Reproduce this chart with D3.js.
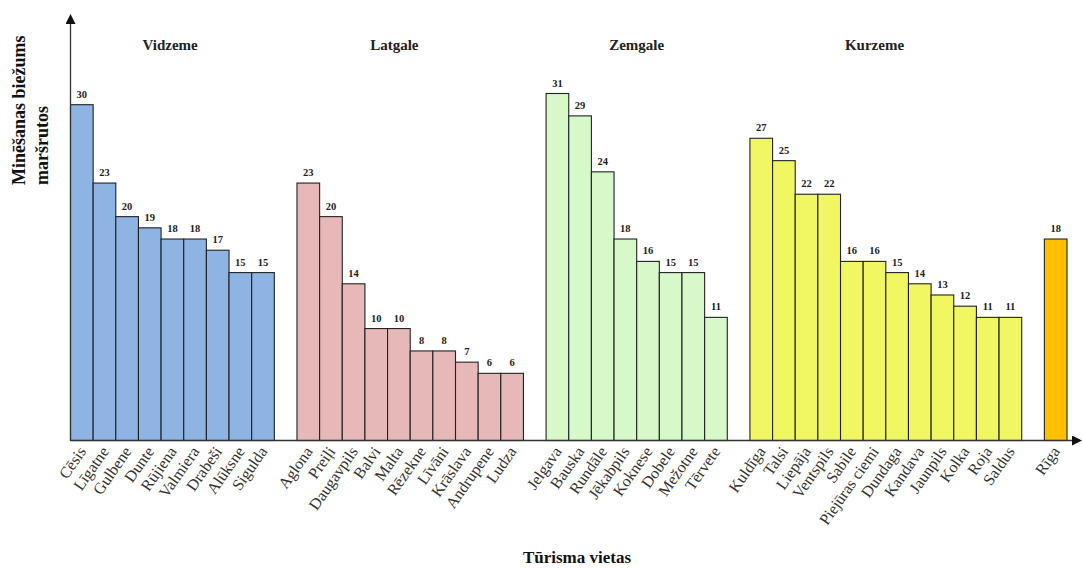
<!DOCTYPE html>
<html>
<head>
<meta charset="utf-8">
<script src="https://cdn.jsdelivr.net/npm/d3@7/dist/d3.min.js"></script>
<style>
  html, body { margin: 0; padding: 0; background: #fff; }
  svg { display: block; }
</style>
</head>
<body>
<svg id="chart" width="1083" height="569"></svg>
<script>
// Regions and their tourism places, with how often each was mentioned in routes
const regions = ["Vidzeme", "Latgale", "Zemgale", "Kurzeme", "Rīga"];
const regionLabels = ["Vidzeme", "Latgale", "Zemgale", "Kurzeme", ""];

const vidzemePlaces = ["Cēsis", "Līgatne", "Gulbene", "Dunte", "Rūjiena", "Valmiera", "Drabeši", "Alūksne", "Sigulda"];
const vidzemeValues = [30, 23, 20, 19, 18, 18, 17, 15, 15];

const latgalePlaces = ["Aglona", "Preiļi", "Daugavpils", "Balvi", "Malta", "Rēzekne", "Līvāni", "Krāslava", "Andrupene", "Ludza"];
const latgaleValues = [23, 20, 14, 10, 10, 8, 8, 7, 6, 6];

const zemgalePlaces = ["Jelgava", "Bauska", "Rundāle", "Jēkabpils", "Koknese", "Dobele", "Mežotne", "Tērvete"];
const zemgaleValues = [31, 29, 24, 18, 16, 15, 15, 11];

const kurzemePlaces = ["Kuldīga", "Talsi", "Liepāja", "Ventspils", "Sabile", "Piejūras ciemi", "Dundaga", "Kandava", "Jaunpils", "Kolka", "Roja", "Saldus"];
const kurzemeValues = [27, 25, 22, 22, 16, 16, 15, 14, 13, 12, 11, 11];

const rigaPlaces = ["Rīga"];
const rigaValues = [18];

const regionColors = ["#8eb4e3", "#e6b9b8", "#d7f8c8", "#f1f763", "#ffc000"];

const yAxisTitle = ["Minēšanas biežums", "maršrutos"];
const xAxisTitle = "Tūrisma vietas";

// Build one flat list of slots, with an empty slot between regions
const groups = [
  [vidzemePlaces, vidzemeValues],
  [latgalePlaces, latgaleValues],
  [zemgalePlaces, zemgaleValues],
  [kurzemePlaces, kurzemeValues],
  [rigaPlaces, rigaValues]
];
const slots = [];
const bars = [];
const regionFirst = [];
groups.forEach(([places, values], gi) => {
  if (gi > 0) slots.push("gap" + gi);
  places.forEach((p, i) => {
    const key = gi + ":" + p;
    if (i === 0) regionFirst.push(key);
    slots.push(key);
    bars.push({ key, place: p, value: values[i], region: gi });
  });
});

const svg = d3.select("#chart");
const serif = "'Liberation Serif', 'Times New Roman', serif";

const x = d3.scaleBand().domain(slots).range([70.5, 1067]).padding(0);
const y = d3.scaleLinear().domain([0, 31]).range([440.5, 93.5]);

// Bars
svg.append("g").selectAll("rect").data(bars).join("rect")
  .attr("x", d => x(d.key))
  .attr("y", d => y(d.value))
  .attr("width", x.bandwidth())
  .attr("height", d => y(0) - y(d.value))
  .attr("fill", d => regionColors[d.region])
  .attr("stroke", "#222")
  .attr("stroke-width", 1.1);

// Value labels above bars
svg.append("g").selectAll("text").data(bars).join("text")
  .attr("x", d => x(d.key) + x.bandwidth() / 2)
  .attr("y", d => y(d.value) - 7)
  .attr("text-anchor", "middle")
  .attr("font-family", serif)
  .attr("font-weight", "bold")
  .attr("font-size", 10.5)
  .attr("fill", "#222")
  .text(d => d.value);

// Region headings, placed a few bands into each group
const headingShift = [4.4, 4.3, 4.0, 5.5];
svg.append("g").selectAll("text").data(regionLabels.filter(t => t)).join("text")
  .attr("x", (d, i) => x(regionFirst[i]) + headingShift[i] * x.bandwidth())
  .attr("y", 50)
  .attr("text-anchor", "middle")
  .attr("font-family", serif)
  .attr("font-weight", "bold")
  .attr("font-size", 15)
  .attr("fill", "#222")
  .text(d => d);

// Category labels under the axis, rotated
svg.append("g").selectAll("text").data(bars).join("text")
  .attr("transform", d => `translate(${x(d.key) + x.bandwidth() / 2 + 5},${y(0) + 11}) rotate(-55)`)
  .attr("text-anchor", "end")
  .attr("font-family", serif)
  .attr("font-size", 16)
  .attr("fill", "#333")
  .text(d => d.place);

// Arrow marker
const defs = svg.append("defs");
defs.append("marker")
  .attr("id", "arrow")
  .attr("viewBox", "0 0 10 10")
  .attr("refX", 0).attr("refY", 5)
  .attr("markerWidth", 10).attr("markerHeight", 10)
  .attr("markerUnits", "userSpaceOnUse")
  .attr("orient", "auto")
  .append("path").attr("d", "M0,0 L10,5 L0,10 Z").attr("fill", "#111");

// Axes drawn as plain arrows
svg.append("line")
  .attr("x1", 70.5).attr("y1", y(0)).attr("x2", 70.5).attr("y2", 24)
  .attr("stroke", "#333").attr("stroke-width", 1.3)
  .attr("marker-end", "url(#arrow)");
svg.append("line")
  .attr("x1", 70.5).attr("y1", y(0)).attr("x2", 1072).attr("y2", y(0))
  .attr("stroke", "#333").attr("stroke-width", 1.3)
  .attr("marker-end", "url(#arrow)");

// Axis titles
const yTitle = svg.append("text")
  .attr("transform", "translate(0,185) rotate(-90)")
  .attr("text-anchor", "start")
  .attr("font-family", serif)
  .attr("font-weight", "bold")
  .attr("font-size", 18)
  .attr("fill", "#111");
yTitle.selectAll("tspan").data(yAxisTitle).join("tspan")
  .attr("x", 0)
  .attr("y", (d, i) => 25 + i * 23)
  .text(d => d);

svg.append("text")
  .attr("x", 577).attr("y", 563)
  .attr("text-anchor", "middle")
  .attr("font-family", serif)
  .attr("font-weight", "bold")
  .attr("font-size", 17)
  .attr("fill", "#111")
  .text(xAxisTitle);
</script>
</body>
</html>
